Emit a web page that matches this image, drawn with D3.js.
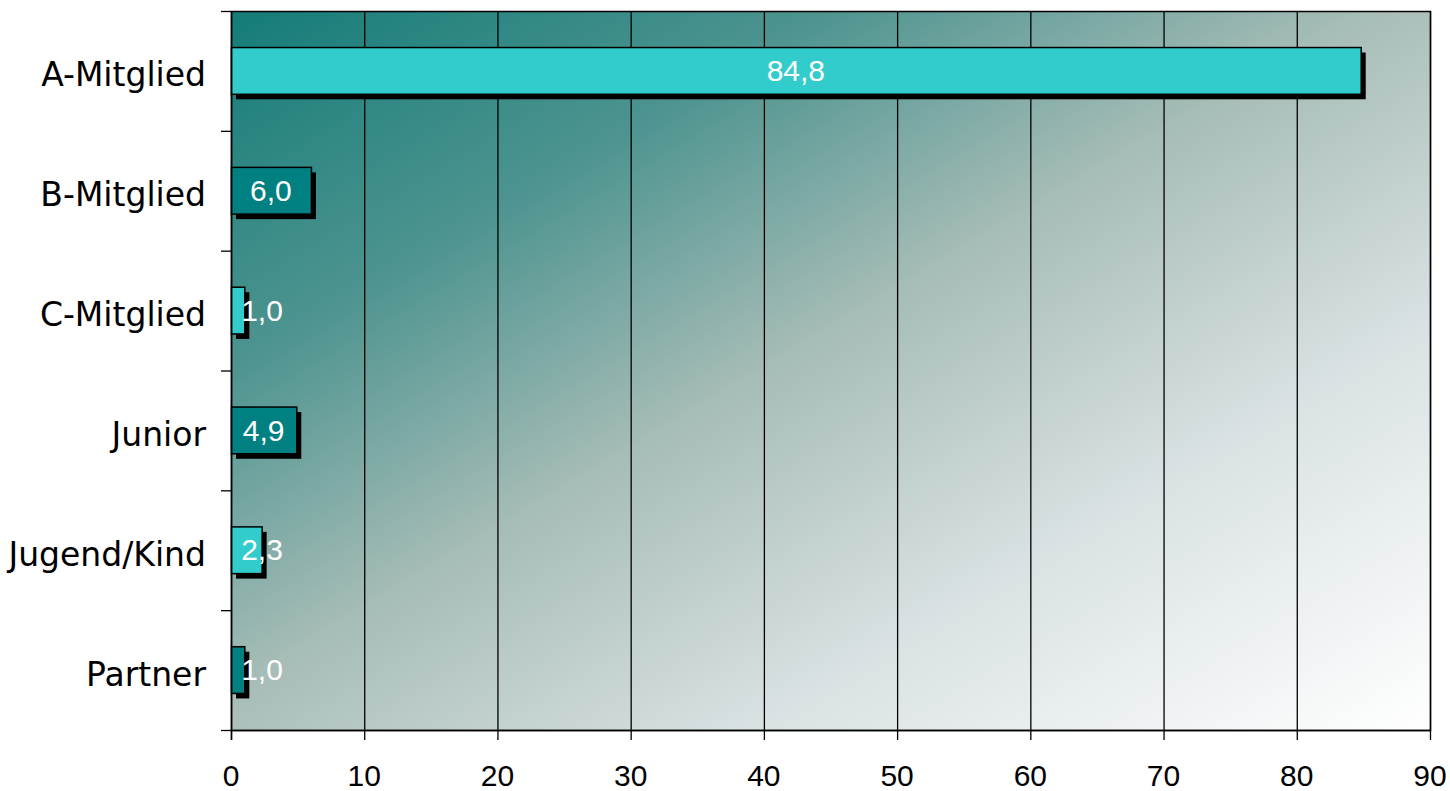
<!DOCTYPE html>
<html><head><meta charset="utf-8">
<script src="https://cdn.jsdelivr.net/npm/d3@7"></script>
<style>html,body{margin:0;padding:0;background:#fff;}svg{display:block;}</style>
</head><body>
<svg id="chart" width="1450" height="791"></svg>
<script>
const categories = ["A-Mitglied","B-Mitglied","C-Mitglied","Junior","Jugend/Kind","Partner"];
const values = [84.8, 6.0, 1.0, 4.9, 2.3, 1.0];
const valueLabels = ["84,8","6,0","1,0","4,9","2,3","1,0"];
const xTicks = [0,10,20,30,40,50,60,70,80,90];
const barColors = ["#33CCCC","#008080"];

const svg = d3.select("#chart");
const m = {left:231, right:1430, top:11, bottom:730};
const x = d3.scaleLinear().domain([0,90]).range([m.left, m.right]);
const y = d3.scaleBand().domain(categories).range([m.top, m.bottom]).padding(0);

const defs = svg.append("defs");
const g = defs.append("linearGradient").attr("id","bg")
  .attr("x1","0").attr("y1","0").attr("x2","1").attr("y2","1");
g.append("stop").attr("offset","0").attr("stop-color","#147c78");
g.append("stop").attr("offset","0.25").attr("stop-color","#4e9490");
g.append("stop").attr("offset","0.47").attr("stop-color","#a6bcb6");
g.append("stop").attr("offset","0.72").attr("stop-color","#dae2e4");
g.append("stop").attr("offset","1").attr("stop-color","#ffffff");

svg.append("rect").attr("x",m.left).attr("y",m.top)
  .attr("width",m.right-m.left).attr("height",m.bottom-m.top)
  .attr("fill","url(#bg)");

// vertical gridlines
svg.append("g").selectAll("line").data(xTicks.slice(1)).join("line")
  .attr("x1",d=>x(d)+0.5).attr("x2",d=>x(d)+0.5)
  .attr("y1",m.top).attr("y2",m.bottom)
  .attr("stroke","#000").attr("stroke-width",1.3);

// border
svg.append("rect").attr("x",m.left+0.5).attr("y",m.top+0.5)
  .attr("width",m.right-m.left).attr("height",m.bottom-m.top)
  .attr("fill","none").attr("stroke","#000").attr("stroke-width",1.5);

const barH = y.bandwidth()*0.39;
const data = categories.map((c,i)=>({c, v:values[i], l:valueLabels[i], i}));

// shadows
svg.append("g").selectAll("rect").data(data).join("rect")
  .attr("x",x(0)+5).attr("y",d=>y(d.c)+y.bandwidth()/2-barH/2+5)
  .attr("width",d=>x(d.v)-x(0)).attr("height",barH)
  .attr("fill","#000");
// bars
svg.append("g").selectAll("rect").data(data).join("rect")
  .attr("x",x(0)+0.5).attr("y",d=>y(d.c)+y.bandwidth()/2-barH/2)
  .attr("width",d=>x(d.v)-x(0)).attr("height",barH)
  .attr("fill",d=>barColors[d.i%2]).attr("stroke","#000").attr("stroke-width",1.5);

// value labels
svg.append("g").selectAll("text").data(data).join("text")
  .attr("x",d=>Math.max((x(0)+x(d.v))/2, x(0)+31))
  .attr("y",d=>y(d.c)+y.bandwidth()/2)
  .attr("dy","0.34em")
  .attr("text-anchor","middle")
  .attr("font-family","Liberation Sans, Arial, sans-serif")
  .attr("font-size",30).attr("fill","#fff")
  .text(d=>d.l);

// left axis
const yAxis = svg.append("g");
yAxis.append("line").attr("x1",m.left+0.5).attr("x2",m.left+0.5).attr("y1",m.top).attr("y2",m.bottom+10)
  .attr("stroke","#000").attr("stroke-width",1.5);
const bounds = categories.map(c=>y(c)).concat([m.bottom]);
yAxis.selectAll("line.t").data(bounds).join("line").attr("class","t")
  .attr("x1",m.left-10).attr("x2",m.left).attr("y1",d=>d+0.5).attr("y2",d=>d+0.5)
  .attr("stroke","#000").attr("stroke-width",1.3);
yAxis.selectAll("text").data(categories).join("text")
  .attr("x",m.left-25).attr("y",d=>y(d)+y.bandwidth()/2).attr("dy","0.47em")
  .attr("text-anchor","end")
  .attr("font-family","DejaVu Sans, Verdana, sans-serif")
  .attr("font-size",33).attr("fill","#000").text(d=>d);

// bottom axis
const xAxis = svg.append("g");
xAxis.append("line").attr("x1",m.left).attr("x2",m.right).attr("y1",m.bottom+0.5).attr("y2",m.bottom+0.5)
  .attr("stroke","#000").attr("stroke-width",1.5);
xAxis.selectAll("line.t").data(xTicks).join("line").attr("class","t")
  .attr("x1",d=>x(d)+0.5).attr("x2",d=>x(d)+0.5).attr("y1",m.bottom).attr("y2",m.bottom+10)
  .attr("stroke","#000").attr("stroke-width",1.3);
xAxis.selectAll("text").data(xTicks).join("text")
  .attr("x",d=>x(d)).attr("y",786)
  .attr("text-anchor","middle")
  .attr("font-family","Liberation Sans, Arial, sans-serif")
  .attr("font-size",30).attr("fill","#000").text(d=>d);
</script>
</body></html>
